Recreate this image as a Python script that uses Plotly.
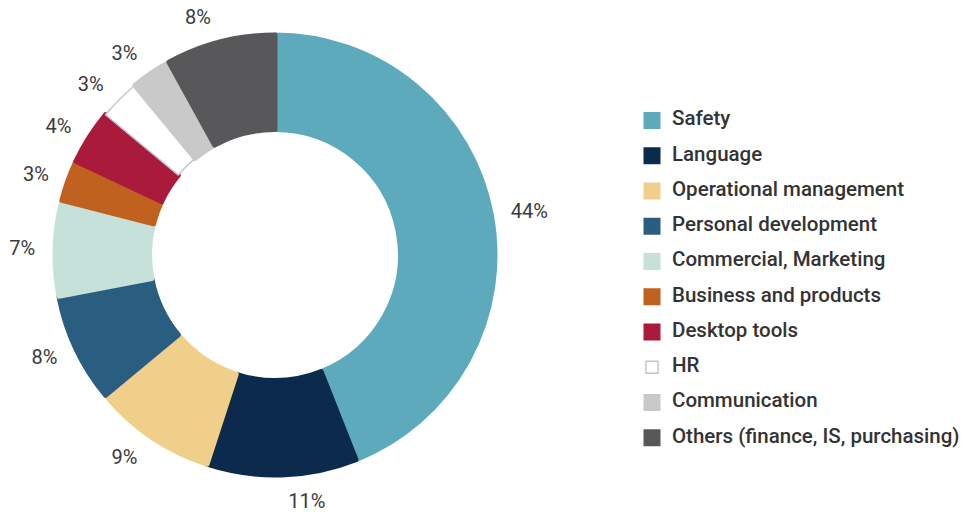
import plotly.graph_objects as go

# Training hours by domain (share of total, %)
categories = [
    "Safety",
    "Language",
    "Operational management",
    "Personal development",
    "Commercial, Marketing",
    "Business and products",
    "Desktop tools",
    "HR",
    "Communication",
    "Others (finance, IS, purchasing)",
]
shares = [44, 11, 9, 8, 7, 3, 4, 3, 3, 8]
colors = [
    "#5eaabd",
    "#0c2a4c",
    "#f0cf8a",
    "#2a5e80",
    "#c6e1d9",
    "#c0611f",
    "#a91a3b",
    "#ffffff",
    "#c9c9c9",
    "#58585a",
]

W, H = 967, 517
cx, cy = 275, 255
r_ring = 220    # donut radius
r_text = 234    # radius used to place the percentage labels


def domain(r):
    return dict(
        x=[(cx - r) / W, (cx + r) / W],
        y=[1 - (cy + r) / H, 1 - (cy - r) / H],
    )


# outline each slice in its own colour (this also enlarges the legend swatches);
# the white HR slice gets a thin grey outline instead
line_colors = [c if c != "#ffffff" else "#c4c4d2" for c in colors]
line_widths = [5 if c != "#ffffff" else 1.5 for c in colors]

# legend labels: text in a span at display size, plus an empty line for row spacing
legend_labels = [f"<span style='font-size:20.5px'>{c}</span><br> " for c in categories]

fig = go.Figure()

# the donut itself
fig.add_trace(
    go.Pie(
        labels=legend_labels,
        values=shares,
        customdata=categories,
        sort=False,
        direction="clockwise",
        rotation=0,
        hole=0.57,
        marker=dict(colors=colors, line=dict(color=line_colors, width=line_widths)),
        textinfo="none",
        hovertemplate="%{customdata}: %{value}%<extra></extra>",
        domain=domain(r_ring),
    )
)

# transparent ring of the same shares carrying the outside percentage labels
fig.add_trace(
    go.Pie(
        labels=categories,
        values=shares,
        sort=False,
        direction="clockwise",
        rotation=0,
        hole=0.9,
        marker=dict(colors=["rgba(0,0,0,0)"] * len(shares)),
        texttemplate="%{value}%",
        textposition="outside",
        textfont=dict(family="Roboto, Arial, sans-serif", size=20, color="#3a3a3a", weight=400),
        hoverinfo="skip",
        showlegend=False,
        domain=domain(r_text),
    )
)

fig.update_layout(
    width=W,
    height=H,
    margin=dict(l=0, r=0, t=0, b=0),
    paper_bgcolor="white",
    plot_bgcolor="white",
    showlegend=True,
    legend=dict(
        x=632 / W,
        xanchor="left",
        y=1 - 106 / H,
        yanchor="top",
        valign="top",
        font=dict(family="Roboto, Arial, sans-serif", size=12.4, color="#333333", weight=500),
        bgcolor="rgba(0,0,0,0)",
    ),
)

fig.write_html("out.html")
